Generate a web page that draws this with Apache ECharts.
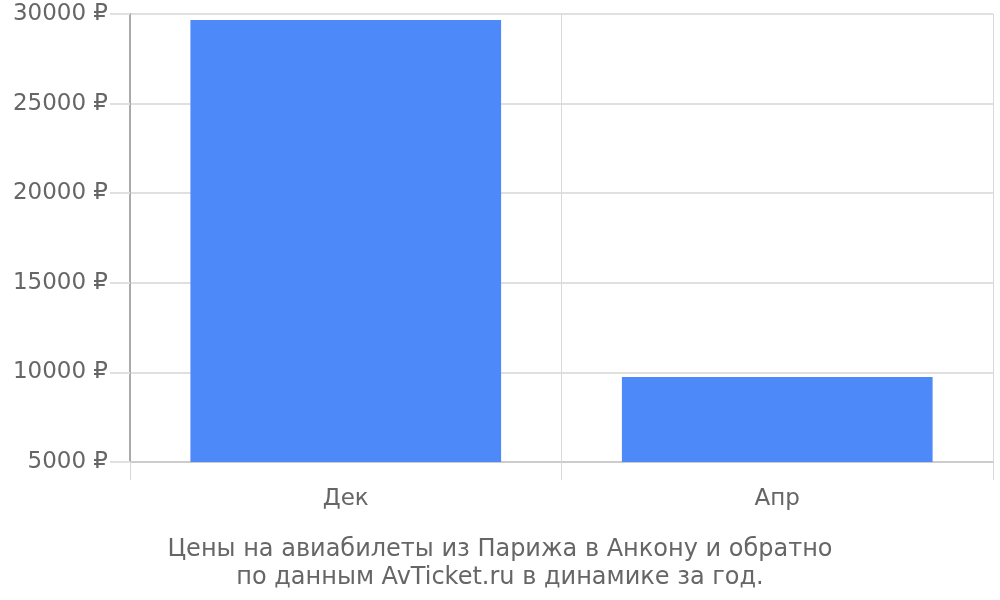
<!DOCTYPE html>
<html><head><meta charset="utf-8">
<script src="https://cdn.jsdelivr.net/npm/echarts@6/dist/echarts.min.js"></script>
<style>html,body{margin:0;padding:0;background:#fff}#c{width:1000px;height:600px}</style>
</head><body><div id="c"></div>
<script>
const categories = ['Дек', 'Апр'];
const prices = [29660, 9750];
const yTicks = [5000, 10000, 15000, 20000, 25000, 30000];
const titleLines = ['Цены на авиабилеты из Парижа в Анкону и обратно', 'по данным AvTicket.ru в динамике за год.'];

const chart = echarts.init(document.getElementById('c'));
const font = 'DejaVu Sans';
chart.setOption({
  animation: false,
  textStyle: { fontFamily: font },
  title: {
    text: titleLines.join('\n'),
    left: 'center', top: 531,
    textStyle: { fontFamily: font, fontSize: 24, fontWeight: 'normal', color: '#666', lineHeight: 28 }
  },
  grid: { left: 130, right: 7, top: 14, bottom: 138 },
  xAxis: {
    type: 'category', data: categories,
    axisLine: { show: true, lineStyle: { color: '#cccccc', width: 2 } },
    axisTick: { show: true, length: 18, lineStyle: { color: '#d8d8d8' } },
    splitLine: { show: true, lineStyle: { color: '#d8d8d8' } },
    axisLabel: { color: '#666', fontSize: 23, margin: 26, fontFamily: font }
  },
  yAxis: {
    type: 'value', min: yTicks[0], max: yTicks[yTicks.length - 1], interval: 5000,
    axisLine: { show: true, lineStyle: { color: '#aaaaaa', width: 2 } },
    axisTick: { show: true, length: 20, lineStyle: { color: '#e0e0e0', width: 2 } },
    splitLine: { show: true, lineStyle: { color: '#e0e0e0', width: 2 } },
    axisLabel: { color: '#666', fontSize: 23, margin: 22, fontFamily: font, verticalAlign: 'middle', padding: [3, 0, 0, 0], formatter: v => v + ' ₽' }
  },
  series: [{
    type: 'bar', data: prices, barCategoryGap: '28%',
    itemStyle: { color: '#4d89f9' }
  }]
});
</script></body></html>
